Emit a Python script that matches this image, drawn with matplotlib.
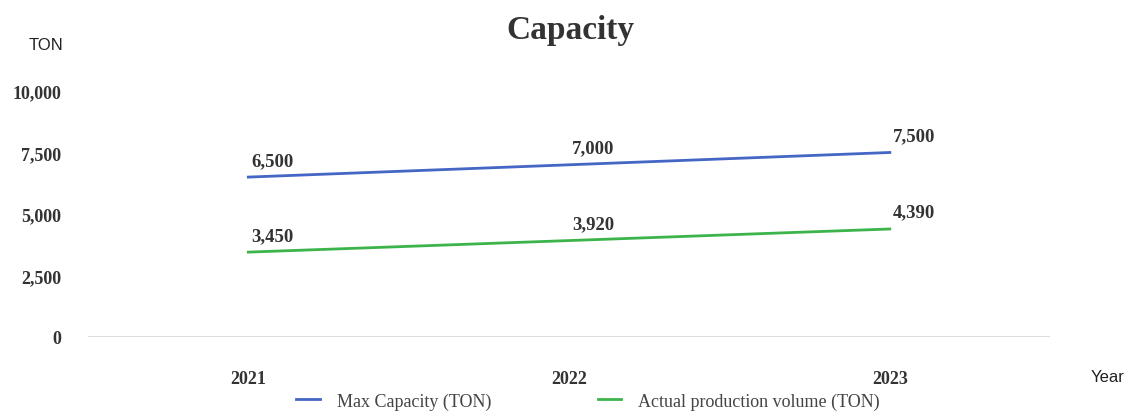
import matplotlib.pyplot as plt

# data
years = ['2021', '2022', '2023']
max_cap = [6500, 7000, 7500]
actual = [3450, 3920, 4390]
yticks = [0, 2500, 5000, 7500, 10000]

fig = plt.figure(figsize=(11.32, 4.14), dpi=100)
ax = fig.add_axes([0.0777, 0.1836, 0.85, 0.5942])

x = list(range(len(years)))
ax.plot(x, max_cap, color='#4466c4', lw=2, label='Max Capacity (TON)')
ax.plot(x, actual, color='#3cb44b', lw=2, label='Actual production volume (TON)')

for i in x:
    ax.annotate(f'{max_cap[i]:,}', (i, max_cap[i]), xytext=(2, 6), textcoords='offset points',
                ha='left', va='bottom', fontsize=13.5, fontweight='bold', family='Liberation Serif', color='#333333')
    ax.annotate(f'{actual[i]:,}', (i, actual[i]), xytext=(2, 6), textcoords='offset points',
                ha='left', va='bottom', fontsize=13.5, fontweight='bold', family='Liberation Serif', color='#333333')

ax.set_xlim(-0.5, 2.5)
ax.set_ylim(0, 10000)
ax.set_xticks(x)
ax.set_xticklabels(years)
ax.set_yticks(yticks)
ax.set_yticklabels([f'{v:,}' for v in yticks])
for lab in ax.get_xticklabels() + ax.get_yticklabels():
    lab.set_family('Liberation Serif')
    lab.set_fontweight('bold')
    lab.set_fontsize(13)
    lab.set_color('#333333')
ax.tick_params(axis='both', length=0)
ax.tick_params(axis='y', pad=19)
ax.tick_params(axis='x', pad=24)
for s in ax.spines.values():
    s.set_visible(False)
ax.axhline(0, color='#dddddd', lw=1.5)

fig.text(570/1132, 1-30/414, 'Capacity', ha='center', va='center', fontsize=24,
         fontweight='bold', family='Liberation Serif', color='#333333')
fig.text(46/1132, 1-45/414, 'TON', ha='center', va='center', fontsize=12,
         family='Liberation Sans', color='#222222')
fig.text(1108/1132, 1-378/414, 'Year', ha='center', va='center', fontsize=12,
         family='Liberation Sans', color='#222222')

fig.legend(loc='center', bbox_to_anchor=(588/1132, 1-402/414), ncol=2, frameon=False,
           prop={'family': 'Liberation Serif', 'size': 13}, labelcolor='#444444',
           handlelength=1.3, handletextpad=0.95, columnspacing=5.9)

fig.savefig('out.png', dpi=100)
